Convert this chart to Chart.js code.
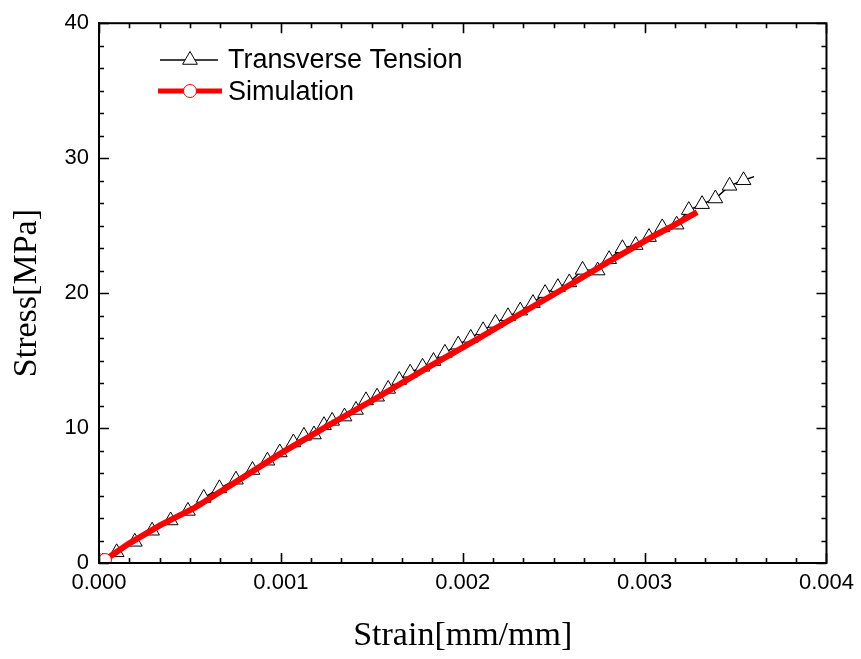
<!DOCTYPE html>
<html>
<head>
<meta charset="utf-8">
<script src="https://cdn.jsdelivr.net/npm/chart.js@4/dist/chart.umd.min.js"></script>
<style>
  html, body { margin: 0; padding: 0; background: #ffffff; }
  canvas { display: block; }
</style>
</head>
<body>
<canvas id="c" width="861" height="659"></canvas>
<script>
// ---------------- data ----------------
const seriesNames = ["Transverse Tension", "Simulation"];

const tensionStrain = [0.00002, 0.000097, 0.000197, 0.000292, 0.000394, 0.000489, 0.000576, 0.000662,
  0.000753, 0.000844, 0.000926, 0.000994, 0.001069, 0.001127, 0.001182, 0.001237, 0.001282, 0.00135,
  0.001413, 0.001468, 0.001529, 0.00159, 0.001651, 0.001711, 0.001779, 0.001839, 0.001902, 0.001975,
  0.002044, 0.002112, 0.00218, 0.002249, 0.002316, 0.002386, 0.002453, 0.002523, 0.002586, 0.002659,
  0.002742, 0.002805, 0.002878, 0.002951, 0.003024, 0.003097, 0.003176, 0.003243, 0.003316, 0.003389,
  0.003467, 0.003544, 0.003602];
const tensionStress = [0.10, 0.79, 1.57, 2.39, 3.15, 3.86, 4.82, 5.53,
  6.17, 6.89, 7.58, 8.19, 8.93, 9.42, 9.52, 10.21, 10.53, 10.85,
  11.34, 12.05, 12.32, 12.90, 13.56, 14.10, 14.54, 14.96, 15.57, 16.18,
  16.68, 17.24, 17.79, 18.28, 18.70, 19.26, 20.00, 20.44, 20.79, 21.72,
  21.67, 22.51, 23.32, 23.56, 24.15, 24.87, 25.07, 26.15, 26.59, 27.01,
  27.95, 28.36, 28.63];

const simStrain = [0.0000328, 0.00016, 0.00034, 0.000525, 0.000799, 0.00099, 0.001264, 0.001538,
  0.001811, 0.002085, 0.002249, 0.002523, 0.002796, 0.00307, 0.00315, 0.003289];
const simStress = [0.22, 1.40, 2.82, 4.08, 6.40, 8.05, 10.22, 12.32,
  14.52, 16.62, 17.93, 20.08, 22.28, 24.38, 24.95, 26.0];

const xTickValues = [0, 0.001, 0.002, 0.003, 0.004];
const yTickValues = [0, 10, 20, 30, 40];
const xTitle = "Strain[mm/mm]";
const yTitle = "Stress[MPa]";

// ---------------- fonts ----------------
function hasFont(name) {
  const ctx = document.createElement('canvas').getContext('2d');
  const s = '0.001 Tension Wm';
  ctx.font = '40px monospace';
  const w0 = ctx.measureText(s).width;
  ctx.font = '40px "' + name + '", monospace';
  return ctx.measureText(s).width !== w0;
}
const narrow = hasFont('Liberation Sans Narrow');
const tickFont = narrow ? { family: '"Liberation Sans Narrow", "Liberation Sans", Arial, sans-serif', size: 24 }
                        : { family: '"Liberation Sans", Arial, sans-serif', size: 22 };
const titleFont = { family: '"Liberation Serif", "Times New Roman", serif', size: 34 };
const legendFontStr = '27px "Liberation Sans", Arial, sans-serif';

const tensionData = tensionStrain.map((x, i) => ({ x: x, y: tensionStress[i] }));
const simData = simStrain.map((x, i) => ({ x: x, y: simStress[i] }));

// ---------------- plugins ----------------
const frameTicks = {
  id: 'frameTicks',
  afterDatasetsDraw(chart) {
    const { ctx, chartArea: a, scales } = chart;
    const xs = scales.x, ys = scales.y;
    ctx.save();
    ctx.strokeStyle = '#000';
    ctx.lineWidth = 2;
    ctx.strokeRect(a.left, a.top, a.right - a.left, a.bottom - a.top);
    ctx.lineWidth = 1.6;
    const majorLen = 10, minorLen = 5, nMinor = 6;
    function ticksFor(vals) {
      const out = [];
      for (let i = 0; i < vals.length; i++) {
        out.push({ v: vals[i], major: true });
        if (i < vals.length - 1) {
          const step = (vals[i + 1] - vals[i]) / nMinor;
          for (let k = 1; k < nMinor; k++) out.push({ v: vals[i] + k * step, major: false });
        }
      }
      return out;
    }
    ctx.beginPath();
    ticksFor(xTickValues).forEach(t => {
      const px = Math.round(xs.getPixelForValue(t.v)) + 0.5;
      const L = t.major ? majorLen : minorLen;
      ctx.moveTo(px, a.bottom); ctx.lineTo(px, a.bottom - L);
      ctx.moveTo(px, a.top); ctx.lineTo(px, a.top + L);
    });
    ticksFor(yTickValues).forEach(t => {
      const py = Math.round(ys.getPixelForValue(t.v)) + 0.5;
      const L = t.major ? majorLen : minorLen;
      ctx.moveTo(a.left, py); ctx.lineTo(a.left + L, py);
      ctx.moveTo(a.right, py); ctx.lineTo(a.right - L, py);
    });
    ctx.stroke();
    ctx.restore();
  }
};

const lineLegend = {
  id: 'lineLegend',
  afterDraw(chart) {
    const { ctx } = chart;
    ctx.save();
    // row 1: black line with triangle
    let y = 60;
    ctx.strokeStyle = '#000'; ctx.lineWidth = 1.5;
    ctx.beginPath(); ctx.moveTo(160, y); ctx.lineTo(218, y); ctx.stroke();
    const r = 8.5, cx = 190;
    ctx.beginPath();
    for (let k = 0; k < 3; k++) {
      const ang = k * 2 * Math.PI / 3;
      const px = cx + Math.sin(ang) * r, py = y - Math.cos(ang) * r;
      if (k === 0) ctx.moveTo(px, py); else ctx.lineTo(px, py);
    }
    ctx.closePath();
    ctx.fillStyle = '#fff'; ctx.fill();
    ctx.lineWidth = 1; ctx.strokeStyle = '#000'; ctx.stroke();
    // row 2: red line with circle
    y = 91;
    ctx.strokeStyle = '#ff0000'; ctx.lineWidth = 5;
    ctx.beginPath(); ctx.moveTo(158, y); ctx.lineTo(222, y); ctx.stroke();
    ctx.beginPath(); ctx.arc(cx, y, 6.5, 0, Math.PI * 2);
    ctx.fillStyle = '#fff'; ctx.fill();
    ctx.lineWidth = 1; ctx.strokeStyle = '#ff0000'; ctx.stroke();
    // texts
    ctx.fillStyle = '#000';
    ctx.font = legendFontStr;
    ctx.textAlign = 'left';
    ctx.textBaseline = 'alphabetic';
    ctx.fillText(seriesNames[0], 228, 68);
    ctx.fillText(seriesNames[1], 228, 100);
    ctx.restore();
  }
};

// ---------------- chart ----------------
new Chart(document.getElementById('c'), {
  type: 'line',
  data: {
    datasets: [
      {
        label: seriesNames[1],
        data: simData,
        borderColor: '#ff0000',
        borderWidth: 6,
        tension: 0,
        pointRadius: ctx => ctx.dataIndex === 0 ? 6.5 : 0,
        pointStyle: 'circle',
        pointBackgroundColor: '#ffffff',
        pointBorderColor: '#ff0000',
        pointBorderWidth: 1,
        order: 0
      },
      {
        label: seriesNames[0],
        data: tensionData,
        borderColor: '#000000',
        borderWidth: 1.5,
        tension: 0,
        pointStyle: 'triangle',
        pointRadius: ctx => ctx.dataIndex === tensionData.length - 1 ? 0 : 8.5,
        pointBackgroundColor: '#ffffff',
        pointBorderColor: '#000000',
        pointBorderWidth: 1,
        order: 1
      }
    ]
  },
  options: {
    responsive: false,
    animation: false,
    devicePixelRatio: 1,
    layout: { padding: { left: 0, top: 21, right: 30, bottom: 0 } },
    plugins: { legend: { display: false }, tooltip: { enabled: false } },
    scales: {
      x: {
        type: 'linear',
        min: 0, max: 0.004,
        afterFit: s => { s.height = 96; },
        afterBuildTicks: s => { s.ticks = xTickValues.map(v => ({ value: v })); },
        ticks: {
          callback: v => Number(v).toFixed(3),
          font: tickFont, color: '#000', padding: 7, maxRotation: 0, autoSkip: false
        },
        grid: { display: false, drawTicks: false },
        border: { display: true, color: '#000', width: 2 },
        title: { display: true, text: xTitle, font: titleFont, color: '#000', padding: { top: 0, bottom: 3 } }
      },
      y: {
        type: 'linear',
        min: 0, max: 40,
        afterFit: s => { s.width = 99; },
        afterBuildTicks: s => { s.ticks = yTickValues.map(v => ({ value: v })); },
        ticks: { font: tickFont, color: '#000', padding: 10, autoSkip: false },
        grid: { display: false, drawTicks: false },
        border: { display: true, color: '#000', width: 2 },
        title: { display: true, text: yTitle, font: titleFont, color: '#000', padding: { top: 7, bottom: 0 } }
      }
    }
  },
  plugins: [frameTicks, lineLegend]
});
</script>
</body>
</html>
